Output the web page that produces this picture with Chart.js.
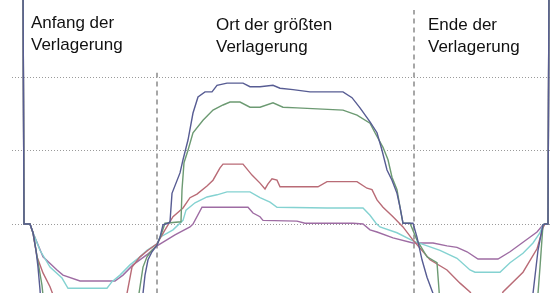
<!DOCTYPE html>
<html>
<head>
<meta charset="utf-8">
<script src="https://cdn.jsdelivr.net/npm/chart.js@4/dist/chart.umd.min.js"></script>
<style>
  html, body { margin: 0; padding: 0; background: #fff; }
  canvas { display: block; }
</style>
</head>
<body>
<canvas id="chart" width="551" height="293"></canvas>
<script>
// Position along the beam (x) and deflection (y) for each measurement
const blueX = [1, 2, 8, 11, 14, 16, 18, 19, 120, 121, 123, 126, 130, 135, 138, 141, 146, 148, 150, 158, 161, 166, 171, 176, 183, 190, 195, 205, 221, 228, 238, 251, 258, 271, 288, 321, 330, 338, 348, 355, 360, 365, 370, 375, 378, 381, 391, 395, 400, 405, 411, 413, 510, 511, 516, 521, 523, 526, 527];
const blueY = [33.4, 0, 0, -1.2, -3.6, -5.9, -9.0, -11.1, -11.1, -9.5, -7.0, -4.9, -3.8, -2.9, -1.8, -0.1, 0.1, 0.3, 4.2, 7.0, 8.8, 11.5, 15.2, 17.4, 18.1, 18.1, 19.0, 19.3, 19.3, 18.8, 18.8, 19.0, 18.6, 18.4, 18.1, 18.1, 17.3, 15.9, 14.0, 12.5, 10.1, 7.4, 6.0, 4.2, 2.3, 0.1, 0.1, -1.8, -4.9, -7.3, -9.5, -11.1, -11.1, -9.5, -3.6, -0.1, 0, 0, 33.4];

const greenX = [1, 2, 8, 11, 16, 20, 22, 116, 117, 121, 125, 130, 135, 139, 143, 159, 160, 162, 166, 171, 181, 191, 201, 208, 218, 228, 238, 251, 261, 275, 321, 335, 348, 353, 361, 366, 370, 375, 378, 381, 388, 395, 405, 415, 417, 418, 515, 516, 518, 521, 523, 526, 527];
const greenY = [33.4, 0, 0, -1.2, -5.2, -8.4, -11.1, -11.1, -9.5, -5.9, -4.5, -3.6, -2.9, -1.5, 0.1, 0.3, 4.7, 8.4, 10.1, 12.5, 14.2, 15.6, 16.3, 16.7, 16.7, 16.0, 16.0, 16.6, 16.0, 15.9, 15.6, 14.9, 13.8, 12.5, 10.5, 8.8, 6.4, 4.7, 2.3, 0.1, 0.1, -2.2, -4.5, -5.3, -9.0, -11.1, -11.1, -9.5, -5.9, -0.1, 0, 0, 33.4];

const redX = [1, 2, 8, 11, 15, 21, 28, 33, 104, 105, 110, 118, 126, 135, 143, 151, 161, 168, 175, 185, 191, 198, 201, 221, 230, 238, 243, 246, 250, 255, 258, 296, 305, 335, 345, 350, 355, 361, 371, 381, 391, 408, 425, 438, 448, 453, 478, 481, 501, 515, 521, 523, 526, 527];
const redY = [33.4, 0, 0, -1.2, -4.5, -6.7, -8.6, -10.4, -10.4, -9.5, -5.9, -4.5, -3.6, -2.7, -0.8, 1.0, 2.2, 3.6, 4.1, 5.2, 6.0, 7.7, 8.2, 8.2, 6.7, 5.6, 4.8, 5.5, 6.2, 6.0, 5.1, 5.1, 5.8, 5.8, 4.9, 4.7, 3.3, 2.3, 1.0, -0.4, -2.2, -4.9, -6.3, -8.1, -9.3, -10.4, -10.4, -9.3, -6.6, -3.4, -0.5, 0, 0, 33.4];

const cyanX = [1, 2, 8, 11, 18, 28, 40, 46, 85, 90, 98, 108, 118, 125, 135, 138, 151, 161, 164, 173, 185, 195, 205, 228, 238, 248, 255, 305, 341, 348, 354, 358, 375, 391, 418, 435, 448, 453, 478, 488, 501, 511, 518, 521, 523, 526, 527];
const cyanY = [33.4, 0, 0, -1.2, -3.6, -5.9, -7.4, -8.8, -8.8, -7.9, -7.0, -5.6, -4.5, -3.6, -2.7, -1.8, -0.8, 0.5, 1.9, 2.9, 3.7, 4.0, 4.4, 4.4, 3.6, 3.0, 2.3, 2.2, 2.2, 1.2, 0.1, -0.4, -1.2, -2.3, -3.6, -4.7, -6.3, -6.6, -6.6, -5.3, -4.0, -2.6, -1.2, -0.1, 0, 0, 33.4];

const purpleX = [1, 2, 8, 11, 21, 35, 41, 58, 93, 101, 111, 125, 135, 153, 168, 171, 180, 226, 231, 238, 241, 275, 283, 331, 341, 348, 355, 371, 391, 411, 425, 435, 445, 456, 476, 488, 501, 515, 521, 523, 526, 527];
const purpleY = [33.4, 0, 0, -1.2, -4.5, -6.3, -7.0, -7.8, -7.8, -7.0, -5.6, -4.2, -3.0, -1.5, -0.4, 0, 2.3, 2.3, 1.5, 1.0, 0.5, 0.4, 0.1, 0.1, 0, -0.8, -1.1, -1.9, -2.6, -2.6, -3.0, -3.2, -3.8, -4.8, -4.8, -3.8, -2.5, -1.1, -0.1, 0, 0, 33.4];

// Start / end of the displacement zone (x position, top of the marker)
const markerX = [135, 392];
const markerTop = [20.7, 29.3];

const gridTicks = [0, 10, 20];

const labels = [
    { lines: ['Anfang der', 'Verlagerung'], x: 31, y: 28 },
    { lines: ['Ort der größten', 'Verlagerung'], x: 216, y: 30 },
    { lines: ['Ende der', 'Verlagerung'], x: 428, y: 30 }
];

function toPoints(xs, ys) {
    return xs.map((x, i) => ({ x: x, y: ys[i] }));
}

function lineSet(xs, ys, color) {
    return {
        data: toPoints(xs, ys),
        borderColor: color,
        borderWidth: 1.4,
        pointRadius: 0,
        tension: 0
    };
}

const datasets = [
    lineSet(blueX, blueY, '#575c93'),
    lineSet(greenX, greenY, '#6c9a72'),
    lineSet(redX, redY, '#b96b76'),
    lineSet(cyanX, cyanY, '#84d2d1'),
    lineSet(purpleX, purpleY, '#9e6ca3')
];

markerX.forEach((x, i) => {
    datasets.push({
        data: [{ x: x, y: -12 }, { x: x, y: markerTop[i] }],
        borderColor: '#8a8a8a',
        borderWidth: 1.5,
        borderDash: [5, 4],
        pointRadius: 0
    });
});

// Beschriftungen oben
const textPlugin = {
    id: 'texts',
    afterDraw(chart) {
        const ctx = chart.ctx;
        ctx.save();
        ctx.font = '17px "Liberation Sans", Arial, sans-serif';
        ctx.fillStyle = '#111';
        ctx.textBaseline = 'alphabetic';
        labels.forEach(l => {
            l.lines.forEach((t, i) => ctx.fillText(t, l.x, l.y + i * 22));
        });
        ctx.restore();
    }
};

new Chart(document.getElementById('chart'), {
    type: 'line',
    data: { datasets: datasets },
    options: {
        responsive: false,
        animation: false,
        layout: { padding: { left: 12, right: 0, top: 0, bottom: 0 } },
        plugins: { legend: { display: false }, tooltip: { enabled: false } },
        scales: {
            x: { type: 'linear', min: -10, max: 529, display: false },
            y: {
                min: -9.45,
                max: 30.68,
                afterBuildTicks: scale => { scale.ticks = gridTicks.map(v => ({ value: v })); },
                ticks: { display: false },
                border: { display: false, dash: [1, 2] },
                grid: { color: '#9a9a9a', lineWidth: 1, drawTicks: false }
            }
        }
    },
    plugins: [textPlugin]
});
</script>
</body>
</html>
